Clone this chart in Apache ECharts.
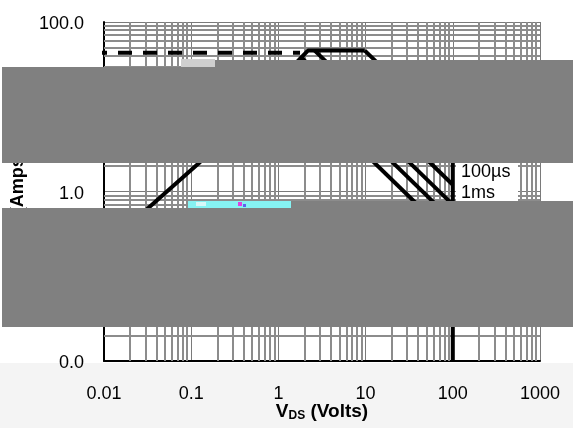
<!DOCTYPE html>
<html><head><meta charset="utf-8">
<script src="https://cdn.jsdelivr.net/npm/echarts@6/dist/echarts.min.js"></script>
<style>html,body{margin:0;padding:0;background:#fff}#c{width:573px;height:428px}</style>
</head><body><div id="c"></div>
<script>
// ---- data ----
const xDecades = [0.01, 0.1, 1, 10, 100];
const yDecades = [0.01, 0.1, 1, 10];
const minorSteps = [2, 3, 4, 5, 6, 7, 8, 9];

const pkgLimitV = [0.009, 1.77];
const pkgLimitI = [43.5, 43.5];

const envelopeV = [0.01, 0.0322, 0.123, 2.18, 9.8];
const envelopeI = [0.2, 0.639, 2.17, 46, 46];

const bvdssV = [100, 100];
const bvdssI = [4.5, 0.01];

const pulseLabels = ['10µs', '100µs', '1ms', '10ms', 'DC'];
const pulseStartV = [9.8, 2.61, 1.82, 1.47, 1.16];
const pulseStartI = [46, 46, 38.5, 30.7, 23.8];
const pulseEndV = [100, 100, 100, 100, 100];
const pulseEndI = [4.5, 1.2, 0.7, 0.45, 0.275];

// ---- build ----
const FONT = '"Liberation Sans", Arial, sans-serif';
const zip = (a, b) => a.map((v, i) => [v, b[i]]);
const minorX = [], minorY = [];
xDecades.forEach(d => minorSteps.forEach(m => minorX.push({ xAxis: +(d * m).toPrecision(6) })));
yDecades.forEach(d => minorSteps.forEach(m => minorY.push({ yAxis: +(d * m).toPrecision(6) })));

const blackLine = (name, data, extra) => Object.assign({
  name, type: 'line', data, symbol: 'none', showSymbol: false, silent: true, z: 5,
  lineStyle: { color: '#000', width: 4 }, animation: false
}, extra || {});

const series = [
  {
    type: 'line', data: [], silent: true, z: 1, animation: false,
    markLine: {
      silent: true, symbol: ['none', 'none'], animation: false,
      label: { show: false },
      lineStyle: { color: '#8c8c8c', width: 2, type: 'solid' },
      emphasis: { disabled: true },
      data: minorX.concat(minorY)
    }
  },
  blackLine('Package limit', zip(pkgLimitV, pkgLimitI), {
    clip: false,
    lineStyle: { color: '#000', width: 4, type: [14, 11], dashOffset: 7 }
  }),
  blackLine('Envelope', zip(envelopeV, envelopeI)),
  blackLine('BVDSS', zip(bvdssV, bvdssI))
];
pulseLabels.forEach((lab, i) => {
  series.push(blackLine(lab, [[pulseStartV[i], pulseStartI[i]], [pulseEndV[i], pulseEndI[i]]]));
});

const fmtX = v => String(+(+v).toPrecision(6));
const fmtY = v => (+v).toFixed(1);

const labelTexts = pulseLabels.map((lab, i) => ({
  type: 'text', left: 461, top: 142 + i * 21, z: 101,
  style: { text: lab, font: '18px ' + FONT, fill: '#000' }
}));

const gray = '#808080';
const richX = {
  b: { fontFamily: FONT, fontWeight: 'bold', fontSize: 19, color: '#000' },
  s: { fontFamily: FONT, fontWeight: 'bold', fontSize: 12, color: '#000', padding: [8, 0, 0, 0] }
};
const richY = {
  b: { fontFamily: FONT, fontWeight: 'bold', fontSize: 18, color: '#000' },
  s: { fontFamily: FONT, fontWeight: 'bold', fontSize: 12, color: '#000', padding: [8, 0, 0, 0] }
};
const chart = echarts.init(document.getElementById('c'), null, { renderer: 'canvas' });
chart.setOption({
  animation: false,
  backgroundColor: '#fff',
  grid: { left: 104, right: 33, top: 22, bottom: 67, containLabel: false },
  xAxis: {
    type: 'log', logBase: 10, min: 0.01, max: 1000,
    name: '{b|V}{s|DS}{b| (Volts)}', nameLocation: 'middle', nameGap: 41, nameMoveOverlap: false,
    nameTextStyle: { rich: richX },
    axisLine: { show: true, onZero: false, lineStyle: { color: '#000', width: 2 } },
    axisTick: { show: false },
    axisLabel: { formatter: fmtX, fontFamily: FONT, fontSize: 18, color: '#000', margin: 24 },
    splitLine: { show: true, lineStyle: { color: '#7a7a7a', width: 1 } }
  },
  yAxis: {
    type: 'log', logBase: 10, min: 0.01, max: 100,
    name: '{b|I}{s|D}{b| (Amps)}', nameLocation: 'middle', nameGap: 76, nameMoveOverlap: false,
    nameTextStyle: { rich: richY },
    axisLine: { show: true, onZero: false, lineStyle: { color: '#000', width: 2 } },
    axisTick: { show: false },
    axisLabel: { formatter: fmtY, fontFamily: FONT, fontSize: 18, color: '#000', margin: 20, verticalAlign: 'top', lineHeight: 5 },
    splitLine: { show: true, lineStyle: { color: '#7a7a7a', width: 1 } }
  },
  series,
  graphic: [
    { type: 'rect', z: -1, shape: { x: 0, y: 363, width: 573, height: 65 }, style: { fill: '#f4f4f4' } },
    { type: 'rect', z: 100, shape: { x: 456, y: 138, width: 62, height: 115 }, style: { fill: '#fff' } },
    ...labelTexts,
    { type: 'rect', z: 200, shape: { x: 2, y: 67, width: 571, height: 96 }, style: { fill: gray } },
    { type: 'rect', z: 200, shape: { x: 215, y: 60, width: 358, height: 8 }, style: { fill: gray } },
    { type: 'rect', z: 200, shape: { x: 181, y: 59, width: 34, height: 8 }, style: { fill: '#cfcfcf' } },
    { type: 'rect', z: 200, shape: { x: 2, y: 208, width: 571, height: 119 }, style: { fill: gray } },
    { type: 'rect', z: 200, shape: { x: 291, y: 201, width: 282, height: 8 }, style: { fill: gray } },
    { type: 'rect', z: 200, shape: { x: 188, y: 201, width: 103, height: 7 }, style: { fill: '#86f3f3' } },
    { type: 'rect', z: 201, shape: { x: 196, y: 202, width: 10, height: 4 }, style: { fill: '#d8f8f8' } },
    { type: 'rect', z: 201, shape: { x: 238, y: 202, width: 4, height: 4 }, style: { fill: '#e040e0' } },
    { type: 'rect', z: 201, shape: { x: 243, y: 204, width: 3, height: 3 }, style: { fill: '#6060f0' } }
  ]
});
</script></body></html>
